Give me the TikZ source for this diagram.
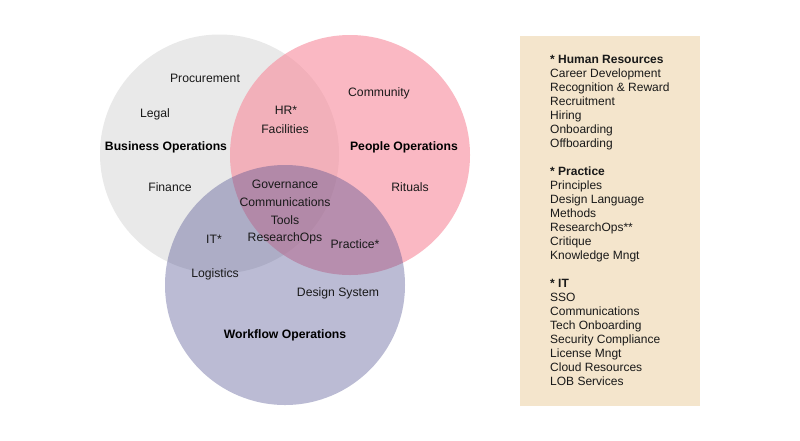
\documentclass[tikz,border=0pt]{standalone}
\usepackage{fontspec}
\setmainfont{Liberation Sans}
\definecolor{bizgray}{HTML}{E9E9E9}
\definecolor{peoplepink}{HTML}{F88A9B}
\definecolor{flownavy}{HTML}{434589}
\definecolor{boxcream}{HTML}{F4E5CC}
\tikzset{
  lbl/.style={font=\fontsize{12.2}{14}\selectfont, inner sep=0pt, text=black!90, yshift=-1pt},
  ttl/.style={font=\fontsize{12.2}{14}\selectfont\bfseries, inner sep=0pt, yshift=-1pt},
}
\begin{document}
\begin{tikzpicture}[x=1pt,y=-1pt]
\useasboundingbox (0,0) rectangle (800,440);
\fill[white] (0,0) rectangle (800,440);
% circles
\fill[bizgray] (219.5,154) circle (119.5);
\fill[peoplepink, fill opacity=0.6] (350,155) circle (120);
\fill[flownavy, fill opacity=0.36] (285,285) circle (120);
% labels
\node[lbl] (proc) at (205,77) {Procurement};
\node[lbl] (legal) at (155,113) {Legal};
\node[ttl] (bizops) at (166,146) {Business Operations};
\node[lbl] (fin) at (170,186) {Finance};
\node[lbl] (hr) at (286,109) {HR*};
\node[lbl] (fac) at (285,128) {Facilities};
\node[lbl] (comm) at (379,92) {Community};
\node[ttl] (pplops) at (404,146) {People Operations};
\node[lbl] (rit) at (410,186) {Rituals};
\node[lbl] (gov) at (285,183) {Governance};
\node[lbl] (comms) at (285,201) {Communications};
\node[lbl] (tools) at (285,219) {Tools};
\node[lbl] (rops) at (285,237) {ResearchOps};
\node[lbl] (it) at (214,238) {IT*};
\node[lbl] (prac) at (355,243) {Practice*};
\node[lbl] (logi) at (215,273) {Logistics};
\node[lbl] (ds) at (338,292) {Design System};
\node[ttl] (flowops) at (285,334) {Workflow Operations};
% legend box
\fill[boxcream] (520,36) rectangle (700,406);
\node[font=\fontsize{12}{14}\selectfont, inner sep=0pt, text=black!90, anchor=north west, align=left] (legend) at (550,55.2) {%
\textbf{* Human Resources}\\
Career Development\\
Recognition \& Reward\\
Recruitment\\
Hiring\\
Onboarding\\
Offboarding\\[14pt]
\textbf{* Practice}\\
Principles\\
Design Language\\
Methods\\
ResearchOps**\\
Critique\\
Knowledge Mngt\\[14pt]
\textbf{* IT}\\
SSO\\
Communications\\
Tech Onboarding\\
Security Compliance\\
License Mngt\\
Cloud Resources\\
LOB Services};
\end{tikzpicture}
\end{document}
